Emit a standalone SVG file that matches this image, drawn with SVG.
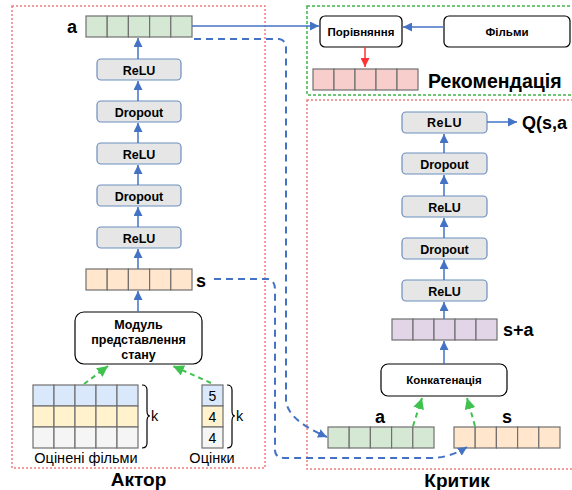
<svg xmlns="http://www.w3.org/2000/svg" width="572" height="490" viewBox="0 0 572 490">
<style>
text{font-family:"Liberation Sans",Arial,sans-serif;fill:#000}
.b{font-weight:bold}
.layer{fill:#e6e6e6;stroke:#6c8ebf;stroke-width:1.2}
.lt{font-weight:bold;font-size:12.5px;text-anchor:middle}
.blk{fill:#fff;stroke:#000;stroke-width:1.2}
.cell{stroke:#707070;stroke-width:1.2}
.arr{stroke:#4472c4;stroke-width:1.5;fill:none}
.dash{stroke:#4472c4;stroke-width:2;fill:none;stroke-dasharray:7,5}
.gdash{stroke:#3fc24e;stroke-width:2;fill:none;stroke-dasharray:5,4}
.brace{stroke:#000;stroke-width:1.2;fill:none}
</style>
<defs>
<marker id="ab" viewBox="0 0 10 10" refX="10" refY="5" markerWidth="9" markerHeight="9" markerUnits="userSpaceOnUse" orient="auto"><path d="M0,0 L10,5 L0,10 z" fill="#4472c4"/></marker>
<marker id="ar" viewBox="0 0 10 10" refX="10" refY="5" markerWidth="9" markerHeight="9" markerUnits="userSpaceOnUse" orient="auto"><path d="M0,0 L10,5 L0,10 z" fill="#ff3333"/></marker>
<marker id="ag" viewBox="0 0 10 10" refX="10" refY="5" markerWidth="11" markerHeight="11" markerUnits="userSpaceOnUse" orient="auto"><path d="M0,0 L10,5 L0,10 z" fill="#3fc24e"/></marker>
</defs>

<!-- region frames -->
<g id="frames">
<rect x="12" y="6" width="253" height="462" fill="none" stroke="#f27c7c" stroke-width="1.5" stroke-dasharray="2,2"/>
<rect x="307" y="6" width="270" height="89" fill="none" stroke="#3fb548" stroke-width="1.5" stroke-dasharray="3,2"/>
<rect x="307" y="100" width="270" height="369" fill="none" stroke="#f27c7c" stroke-width="1.5" stroke-dasharray="2,2"/>
</g>

<!-- Actor -->
<g id="actor-a">
<g class="cell" fill="#d5e8d4"><rect x="86" y="16" width="21.2" height="21"/><rect x="107.2" y="16" width="21.2" height="21"/><rect x="128.4" y="16" width="21.2" height="21"/><rect x="149.6" y="16" width="21.2" height="21"/><rect x="170.8" y="16" width="21.2" height="21"/></g>
<text x="67" y="33" class="b" font-size="18">a</text>
</g>
<g id="actor-relu1"><rect class="layer" x="97" y="59" width="84" height="21" rx="4"/><text class="lt" x="139" y="74.5">ReLU</text></g>
<g id="actor-drop1"><rect class="layer" x="97" y="101" width="84" height="21" rx="4"/><text class="lt" x="139" y="116.5">Dropout</text></g>
<g id="actor-relu2"><rect class="layer" x="97" y="143" width="84" height="21" rx="4"/><text class="lt" x="139" y="158.5">ReLU</text></g>
<g id="actor-drop2"><rect class="layer" x="97" y="185" width="84" height="21" rx="4"/><text class="lt" x="139" y="200.5">Dropout</text></g>
<g id="actor-relu3"><rect class="layer" x="97" y="227" width="84" height="21" rx="4"/><text class="lt" x="139" y="242.5">ReLU</text></g>
<g id="actor-s">
<g class="cell" fill="#ffe6cc"><rect x="86" y="269" width="21.2" height="21"/><rect x="107.2" y="269" width="21.2" height="21"/><rect x="128.4" y="269" width="21.2" height="21"/><rect x="149.6" y="269" width="21.2" height="21"/><rect x="170.8" y="269" width="21.2" height="21"/></g>
<text x="196" y="287" class="b" font-size="18">s</text>
</g>
<g id="state-module"><rect class="blk" x="75" y="312" width="127" height="52" rx="9"/>
<text class="lt" x="138.5" y="329">Модуль</text><text class="lt" x="138.5" y="344">представлення</text><text class="lt" x="138.5" y="359">стану</text></g>
<g id="rated-films">
<g class="cell">
<g fill="#dae8fc"><rect x="33" y="385" width="21" height="21"/><rect x="54" y="385" width="21" height="21"/><rect x="75" y="385" width="21" height="21"/><rect x="96" y="385" width="21" height="21"/><rect x="117" y="385" width="21" height="21"/></g>
<g fill="#fff2cc"><rect x="33" y="406" width="21" height="21"/><rect x="54" y="406" width="21" height="21"/><rect x="75" y="406" width="21" height="21"/><rect x="96" y="406" width="21" height="21"/><rect x="117" y="406" width="21" height="21"/></g>
<g fill="#f5f5f5"><rect x="33" y="427" width="21" height="21"/><rect x="54" y="427" width="21" height="21"/><rect x="75" y="427" width="21" height="21"/><rect x="96" y="427" width="21" height="21"/><rect x="117" y="427" width="21" height="21"/></g>
</g>
<path class="brace" d="M142,385 Q147,385 147,390 V411 Q147,416 150,416 Q147,416 147,421 V443 Q147,448 142,448"/>
<text x="151" y="421" font-size="14.5">k</text>
<text x="86" y="463" font-size="14.5" text-anchor="middle">Оцінені фільми</text>
</g>
<g id="ratings">
<rect class="cell" fill="#dae8fc" x="202" y="385" width="21" height="21"/>
<rect class="cell" fill="#fff2cc" x="202" y="406" width="21" height="21"/>
<rect class="cell" fill="#f5f5f5" x="202" y="427" width="21" height="21"/>
<text x="212.5" y="401" font-size="14" text-anchor="middle">5</text>
<text x="212.5" y="422" font-size="14" text-anchor="middle">4</text>
<text x="212.5" y="443" font-size="14" text-anchor="middle">4</text>
<path class="brace" d="M227,385 Q232,385 232,390 V411 Q232,416 235,416 Q232,416 232,421 V443 Q232,448 227,448"/>
<text x="236" y="421" font-size="14.5">k</text>
<text x="212" y="463" font-size="14.5" text-anchor="middle">Оцінки</text>
</g>
<g id="actor-title"><text x="138.5" y="486" class="b" font-size="19" text-anchor="middle">Актор</text></g>

<!-- Recommendation -->
<g id="compare"><rect class="blk" x="320" y="16" width="82" height="31" rx="5"/><text x="361" y="35.5" class="b" font-size="11.5" text-anchor="middle">Порівняння</text></g>
<g id="films"><rect class="blk" x="444" y="16" width="126" height="31" rx="5"/><text x="507" y="35.5" class="b" font-size="11.5" text-anchor="middle">Фільми</text></g>
<g id="recommendation">
<g class="cell" fill="#f8cecc"><rect x="313" y="69" width="21" height="21"/><rect x="334" y="69" width="21" height="21"/><rect x="355" y="69" width="21" height="21"/><rect x="376" y="69" width="21" height="21"/><rect x="397" y="69" width="21" height="21"/></g>
<text x="428" y="88" class="b" font-size="19.5">Рекомендація</text>
</g>

<!-- Critic -->
<g id="critic-relu-top"><rect class="layer" x="402" y="112" width="85" height="21" rx="4"/><text class="lt" x="444.5" y="127" font-size="11.5" letter-spacing="0.6">ReLU</text></g>
<g id="critic-q"><text x="522" y="129" class="b" font-size="18">Q(s,a</text></g>
<g id="critic-drop1"><rect class="layer" x="402" y="153" width="85" height="21" rx="4"/><text class="lt" x="444.5" y="168.5">Dropout</text></g>
<g id="critic-relu2"><rect class="layer" x="402" y="196" width="85" height="21" rx="4"/><text class="lt" x="444.5" y="211.5">ReLU</text></g>
<g id="critic-drop2"><rect class="layer" x="402" y="238" width="85" height="21" rx="4"/><text class="lt" x="444.5" y="253.5">Dropout</text></g>
<g id="critic-relu3"><rect class="layer" x="402" y="280" width="85" height="21" rx="4"/><text class="lt" x="444.5" y="295.5">ReLU</text></g>
<g id="critic-sa">
<g class="cell" fill="#e1d5e7"><rect x="392" y="319" width="21" height="21"/><rect x="413" y="319" width="21" height="21"/><rect x="434" y="319" width="21" height="21"/><rect x="455" y="319" width="21" height="21"/><rect x="476" y="319" width="21" height="21"/></g>
<text x="503" y="336" class="b" font-size="18">s+a</text>
</g>
<g id="concat"><rect class="blk" x="381" y="364" width="126" height="32" rx="7"/><text x="444" y="384" class="b" font-size="11.5" text-anchor="middle">Конкатенація</text></g>
<g id="critic-a">
<g class="cell" fill="#d5e8d4"><rect x="328" y="427" width="21.2" height="21"/><rect x="349.2" y="427" width="21.2" height="21"/><rect x="370.4" y="427" width="21.2" height="21"/><rect x="391.6" y="427" width="21.2" height="21"/><rect x="412.8" y="427" width="21.2" height="21"/></g>
<text x="380" y="423" class="b" font-size="18" text-anchor="middle">a</text>
</g>
<g id="critic-s">
<g class="cell" fill="#ffe6cc"><rect x="454" y="427" width="21.2" height="21"/><rect x="475.2" y="427" width="21.2" height="21"/><rect x="496.4" y="427" width="21.2" height="21"/><rect x="517.6" y="427" width="21.2" height="21"/><rect x="538.8" y="427" width="21.2" height="21"/></g>
<text x="507" y="423" class="b" font-size="18" text-anchor="middle">s</text>
</g>
<g id="critic-title"><text x="457" y="487" class="b" font-size="19" text-anchor="middle">Критик</text></g>

<!-- connectors -->
<g id="connectors">
<g class="arr" marker-end="url(#ab)">
<path d="M138,312 V291"/>
<path d="M138,269 V249"/>
<path d="M138,227 V207"/>
<path d="M138,185 V165"/>
<path d="M138,143 V123"/>
<path d="M138,101 V81"/>
<path d="M138,59 V38"/>
<path d="M444,364 V341"/>
<path d="M444,319 V302"/>
<path d="M444,280 V260"/>
<path d="M444,238 V218"/>
<path d="M444,196 V175"/>
<path d="M444,153 V134"/>
<path d="M487,122 H517"/>
<path d="M192,26 H319"/>
<path d="M444,27 H403"/>
</g>
<path d="M365,47 V67" stroke="#ff3333" stroke-width="1.5" fill="none" marker-end="url(#ar)"/>
<path class="dash" d="M194,39 H279 Q286,40 286,48 V400 Q287,420 327,437" marker-end="url(#ab)"/>
<path class="dash" d="M214,279 H268 Q275,280 275,290 V450 Q275,458 285,458 H430 Q450,458 467,447" marker-end="url(#ab)"/>
<g class="gdash" marker-end="url(#ag)">
<path d="M84,384 L108,366"/>
<path d="M211,383 L173,366"/>
<path d="M413,426 L422,398"/>
<path d="M475,426 L467,398"/>
</g>
</g>
</svg>
